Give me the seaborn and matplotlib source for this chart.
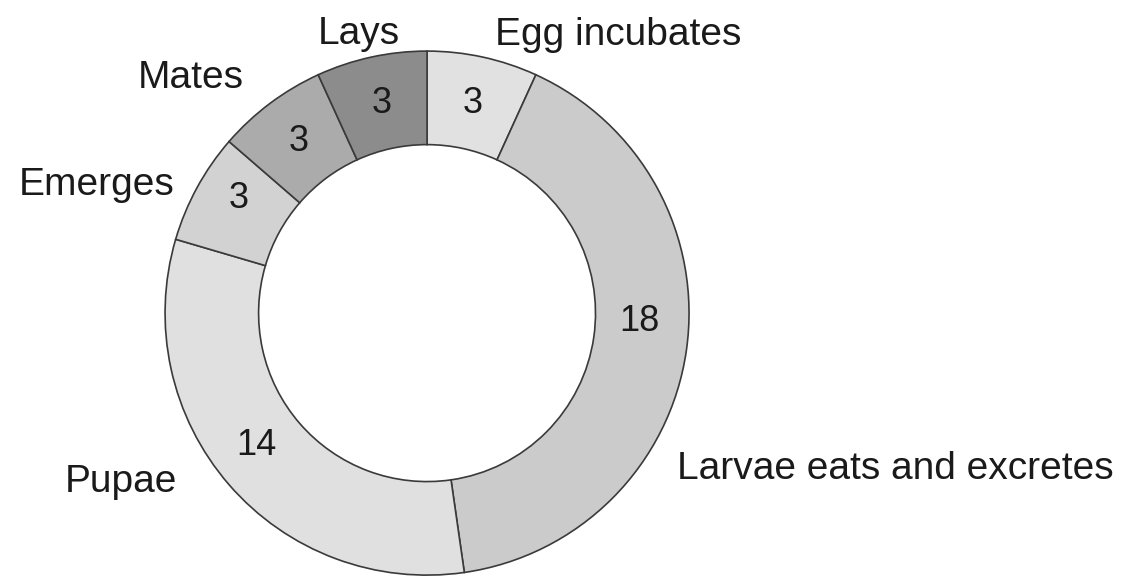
import matplotlib
matplotlib.use("Agg")
import matplotlib.pyplot as plt
import seaborn as sns

# Stages of the life cycle (days), clockwise from the top
stages = ['Egg incubates', 'Larvae eats and excretes', 'Pupae', 'Emerges', 'Mates', 'Lays']
days = [3, 18, 14, 3, 3, 3]
colors = ['#e1e1e1', '#cbcbcb', '#e0e0e0', '#d2d2d2', '#ababab', '#8c8c8c']

# where the outer stage names sit (text baseline, axes data units)
label_pos = [(0.729, 1.023), (1.786, -0.634), (-1.168, -0.683),
             (-1.263, 0.450), (-0.901, 0.859), (-0.260, 1.027)]
# small nudges for the numbers inside the ring
num_nudge = [(0.0, 0.0), (0.0, 0.085), (-0.03, 0.03), (0.0, 0.045), (0.0, 0.0), (0.0, 0.0)]

sns.set_theme(style="white")
plt.rcParams['font.family'] = ['Liberation Sans', 'DejaVu Sans']

fig = plt.figure(figsize=(11.25, 5.78), dpi=100)
ax = fig.add_axes([0, 0, 1, 1])

total = sum(days)
wedges, _, autotexts = ax.pie(
    days, colors=colors, startangle=90, counterclock=False,
    wedgeprops=dict(width=0.357, edgecolor='#3a3a3a', linewidth=1.2),
    autopct=lambda p: f"{round(p * total / 100)}", pctdistance=0.82,
    textprops=dict(fontsize=26, color='#1a1a1a'))

for t, (dx, dy) in zip(autotexts, num_nudge):
    x, y = t.get_position()
    t.set_position((x + dx, y + dy))

ax.set_xlim(-1.630, 2.664)
ax.set_ylim(-1.011, 1.195)
ax.set_aspect('auto')

for name, (x, y) in zip(stages, label_pos):
    ax.text(x, y, name, ha='center', va='baseline', fontsize=28, color='#1a1a1a')

ax.axis('off')
fig.savefig("out.png", dpi=100, facecolor='white')
